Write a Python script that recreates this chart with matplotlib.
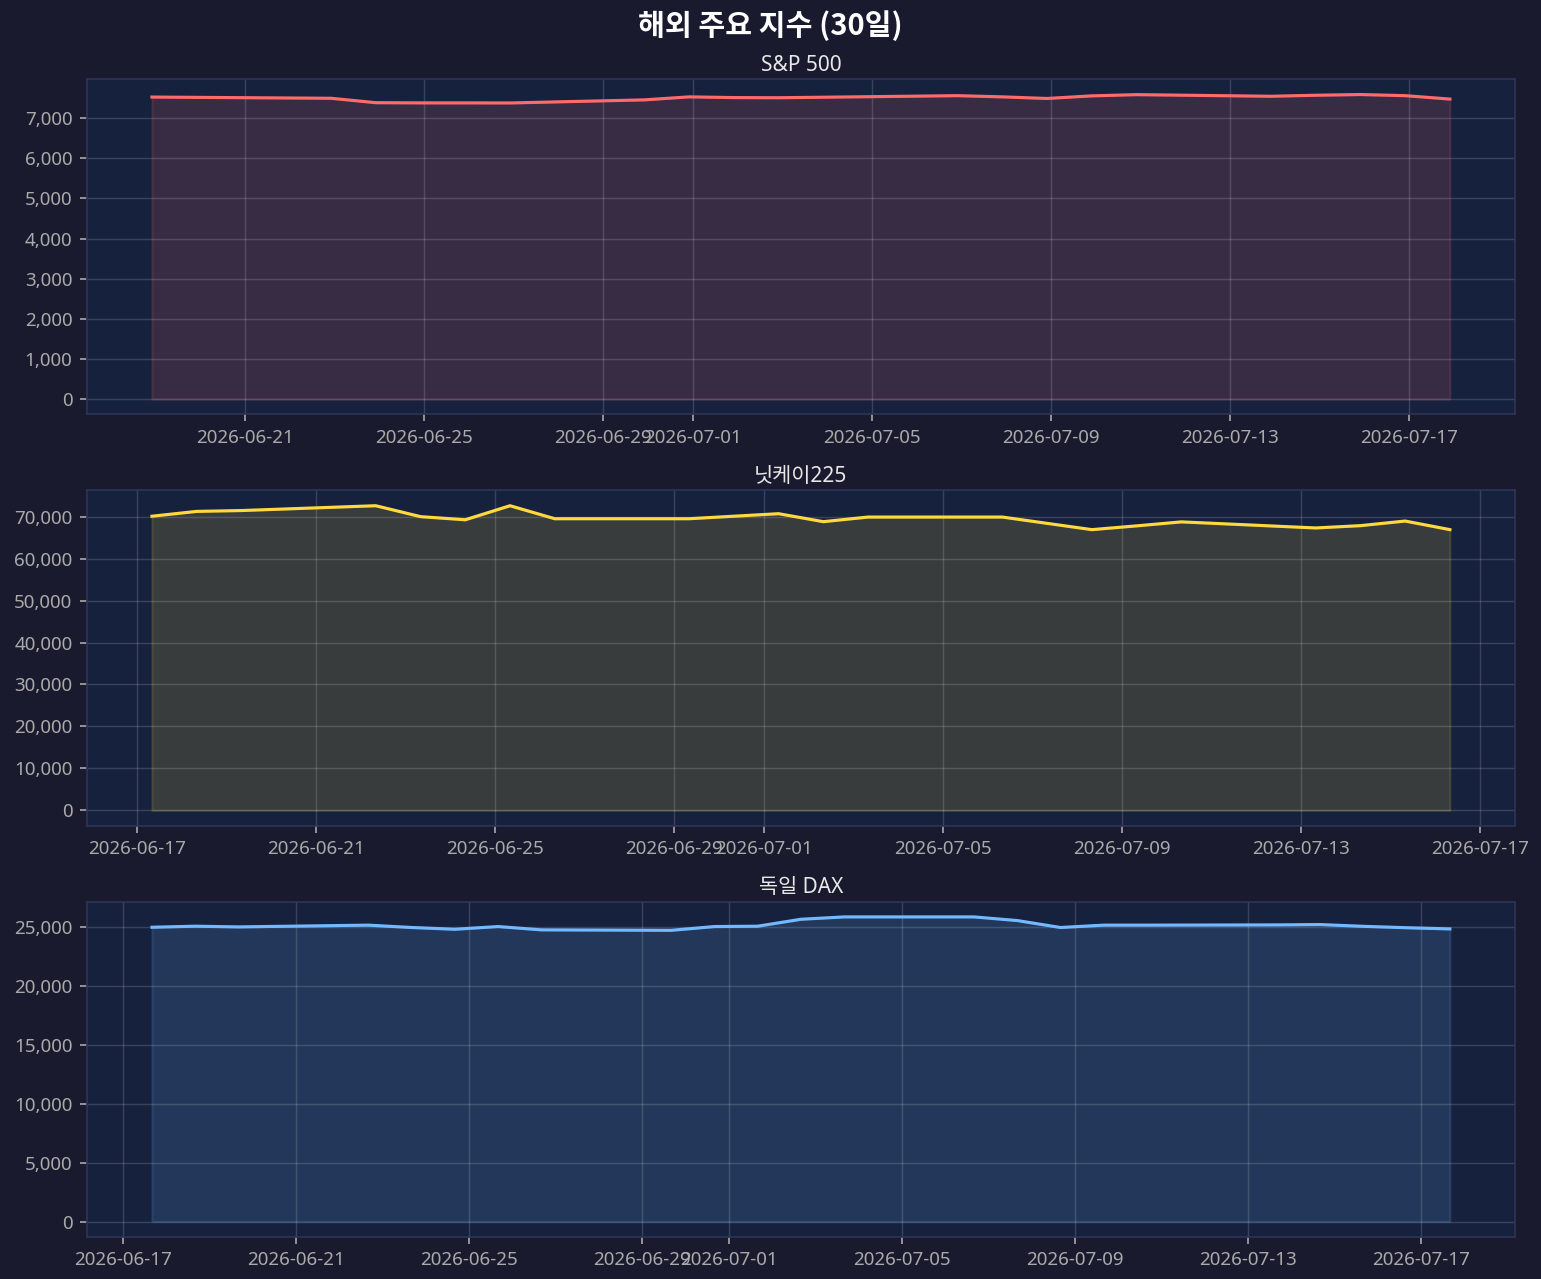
import pandas as pd
import matplotlib
matplotlib.use('Agg')
import matplotlib.pyplot as plt
from matplotlib.ticker import MaxNLocator, FuncFormatter

plt.rcParams['font.family'] = ['Noto Sans', 'Noto Sans CJK KR', 'DejaVu Sans']

# S&P 500 (미국 거래일)
sp_dates = ['2026-06-18', '2026-06-22', '2026-06-23', '2026-06-24', '2026-06-25', '2026-06-26',
            '2026-06-29', '2026-06-30', '2026-07-01', '2026-07-02', '2026-07-06', '2026-07-07',
            '2026-07-08', '2026-07-09', '2026-07-10', '2026-07-13', '2026-07-14', '2026-07-15',
            '2026-07-16', '2026-07-17']
sp_values = [7525, 7495, 7385, 7380, 7380, 7378,
             7455, 7530, 7512, 7508, 7560, 7530,
             7490, 7555, 7585, 7545, 7570, 7588,
             7560, 7475]

# 닛케이225
nk_dates = ['2026-06-17', '2026-06-18', '2026-06-19', '2026-06-22', '2026-06-23', '2026-06-24',
            '2026-06-25', '2026-06-26', '2026-06-29', '2026-06-30', '2026-07-01', '2026-07-02',
            '2026-07-03', '2026-07-06', '2026-07-07', '2026-07-08', '2026-07-09', '2026-07-10',
            '2026-07-13', '2026-07-14', '2026-07-15', '2026-07-16']
nk_values = [70100, 71250, 71450, 72600, 70000, 69250,
             72600, 69500, 69500, 70100, 70700, 68800,
             69900, 69900, 68400, 66900, 67800, 68750,
             67300, 67850, 68950, 66900]

# 독일 DAX
dax_dates = ['2026-06-17', '2026-06-18', '2026-06-19', '2026-06-22', '2026-06-23', '2026-06-24',
             '2026-06-25', '2026-06-26', '2026-06-29', '2026-06-30', '2026-07-01', '2026-07-02',
             '2026-07-03', '2026-07-06', '2026-07-07', '2026-07-08', '2026-07-09', '2026-07-10',
             '2026-07-13', '2026-07-14', '2026-07-15', '2026-07-16', '2026-07-17']
dax_values = [25020, 25110, 25050, 25200, 25000, 24850,
              25080, 24800, 24760, 25080, 25110, 25700,
              25900, 25900, 25590, 25000, 25200, 25200,
              25220, 25250, 25100, 24980, 24880]

panels = [
    ('S&P 500', sp_dates, sp_values, '#ff6b6b', '22h'),
    ('닛케이225', nk_dates, nk_values, '#ffd93d', '8h'),
    ('독일 DAX', dax_dates, dax_values, '#74b9ff', '16h'),
]

bg = '#1a1a2e'
ax_bg = '#16213e'

fig, axes = plt.subplots(3, 1, figsize=(1541 / 150, 1279 / 150), dpi=150)
fig.patch.set_facecolor(bg)
fig.subplots_adjust(left=0.0565, right=0.983, top=0.938, bottom=0.033, hspace=0.227)

for ax, (name, dates, vals, color, offset) in zip(axes, panels):
    x = pd.to_datetime(dates) + pd.Timedelta(offset)
    ax.set_facecolor(ax_bg)
    ax.plot(x, vals, color=color, lw=1.5)
    ax.fill_between(x, vals, color=color, alpha=0.15)
    ax.set_title(name, color='#e8e8e8', fontsize=10, pad=4)
    ax.grid(True, color='white', alpha=0.15, lw=0.7)
    ax.tick_params(colors='#aaaaaa', labelsize=9)
    ax.yaxis.set_major_formatter(FuncFormatter(lambda v, p: f'{v:,.0f}'))
    for s in ax.spines.values():
        s.set_color('#2e3456')

# S&P 패널은 1,000 단위 눈금
axes[0].yaxis.set_major_locator(MaxNLocator(nbins=9))

fig.suptitle('해외 주요 지수 (30일)', color='white', fontsize=14, fontweight='bold', y=0.992,
             family=['Noto Sans CJK KR', 'DejaVu Sans'])

plt.savefig('out.png', dpi=150, facecolor=bg)
